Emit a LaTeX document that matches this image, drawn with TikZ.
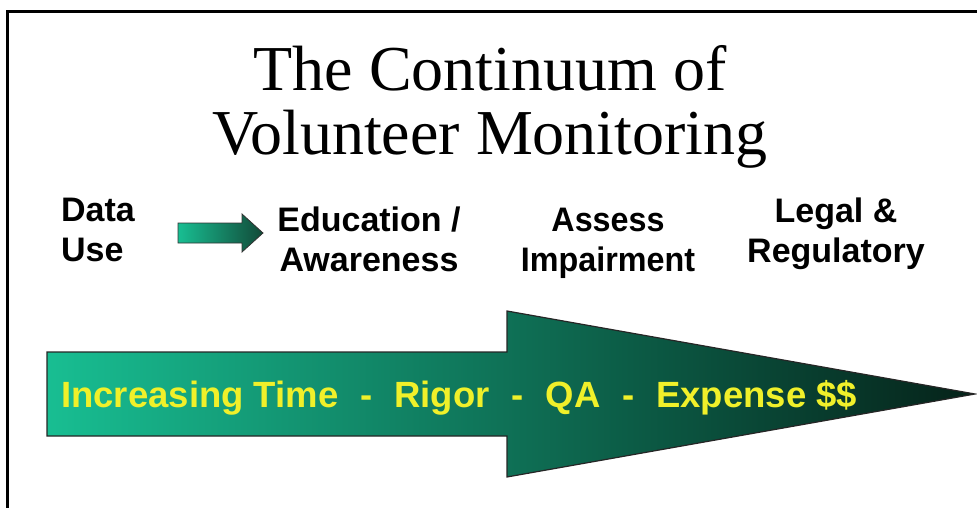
\documentclass[tikz,border=0pt]{standalone}
\usepackage{fontspec}
\setmainfont{Liberation Serif}
\setsansfont{Liberation Sans}
\usetikzlibrary{positioning,calc}

\definecolor{tealhi}{RGB}{24,190,146}
\definecolor{tealmid}{RGB}{10,126,95}
\definecolor{tealdark}{RGB}{5,34,25}
\definecolor{tealdeep}{RGB}{18,74,56}
\definecolor{rampyellow}{RGB}{240,240,42}

\newcommand{\sepdash}{\hspace{0.6em}-\hspace{0.6em}}

\tikzset{
  headline/.style={font=\fontsize{64}{64}\selectfont, align=center, inner sep=0pt},
  usecase/.style={font=\sffamily\bfseries\fontsize{34}{40}\selectfont, align=center, inner sep=0pt},
  bigarrow/.style={draw=black!85, line width=1.2pt, left color=tealhi, middle color=tealmid, right color=tealdark},
  smallarrow/.style={draw=black!80, line width=0.8pt, left color=tealhi, right color=tealdeep},
}

\begin{document}
\begin{tikzpicture}[x=1pt,y=-1pt]
  \useasboundingbox (0,0) rectangle (977,508);

  % frame (top and left edges only)
  \draw[line width=3pt] (977,12) -- (7,12) -- (7,508);

  % title (base = last line)
  \node[headline, anchor=base] (title) at (490,154) {The Continuum of\\Volunteer Monitoring};

  % data use and its steps
  \node[usecase, align=left, anchor=base west] (datause) at (61,261) {Data\\Use};
  \node[usecase, anchor=base] (educ) at (369,271) {Education /\\Awareness};
  \node[usecase, anchor=base, xscale=0.95] (assess) at (608,271) {Assess\\Impairment};
  \node[usecase, anchor=base] (legal) at (836,262) {Legal \&\\Regulatory};

  % small pointer arrow
  \draw[smallarrow] (178,223) -- (242,223) -- (242,214) -- (263,233)
    -- (242,252) -- (242,243) -- (178,243) -- cycle;

  % big ramp arrow
  \draw[bigarrow] (47,352) -- (507,352) -- (507,311) -- (975,394)
    -- (507,477) -- (507,436) -- (47,436) -- cycle;
  \node[font=\sffamily\bfseries\fontsize{36.5}{36.5}\selectfont, text=rampyellow,
        inner sep=0pt, anchor=base west] (ramp) at (61,407)
    {Increasing Time\sepdash Rigor\sepdash QA\sepdash Expense \$\$};
\end{tikzpicture}
\end{document}
